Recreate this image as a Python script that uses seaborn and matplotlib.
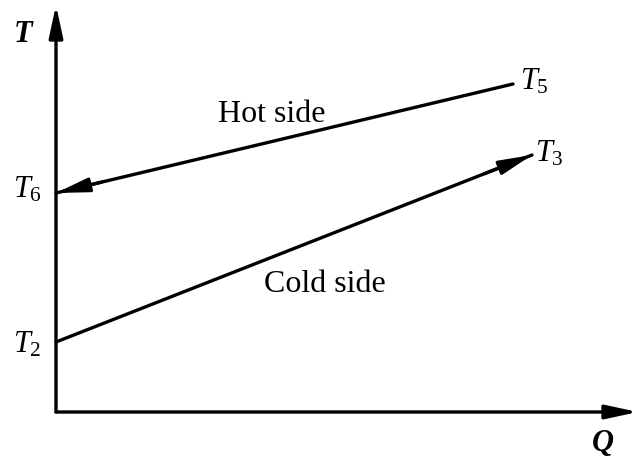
import matplotlib
matplotlib.use("Agg")
import matplotlib.pyplot as plt
import seaborn as sns
import pandas as pd

# Schematic data (arbitrary units: Q = heat, T = temperature)
hot_Q = [457, 0]
hot_T = [328, 219]
cold_Q = [0, 476]
cold_T = [70, 257]
q_axis_max = 582
t_axis_max = 407
point_labels = ["$T_5$", "$T_3$", "$T_6$", "$T_2$"]
side_labels = ["Hot side", "Cold side"]
axis_labels = ["Q", "T"]

sns.set_theme(style="white")
plt.rcParams["font.family"] = ["Liberation Serif", "DejaVu Serif"]
plt.rcParams["text.color"] = "black"
plt.rcParams["mathtext.fontset"] = "custom"
plt.rcParams["mathtext.rm"] = "Liberation Serif"
plt.rcParams["mathtext.it"] = "Liberation Serif:italic"
plt.rcParams["mathtext.bf"] = "Liberation Serif:bold"

fig = plt.figure(figsize=(6.38, 4.63), dpi=100)
ax = fig.add_axes([0, 0, 1, 1])
ax.set_xlim(-56, 582)
ax.set_ylim(-51, 412)
ax.axis("off")

lw = 2.4
df_hot = pd.DataFrame({"Q": hot_Q, "T": hot_T})
df_cold = pd.DataFrame({"Q": cold_Q, "T": cold_T})
sns.lineplot(data=df_hot, x="Q", y="T", sort=False, color="black", lw=lw, ax=ax, estimator=None)
sns.lineplot(data=df_cold, x="Q", y="T", sort=False, color="black", lw=lw, ax=ax, estimator=None)

head = dict(arrowstyle="-|>,head_length=0.65,head_width=0.14", color="black",
            lw=lw, shrinkA=0, shrinkB=0, mutation_scale=30)

def arrow_head(q0, t0, q1, t1, frac=0.1):
    ax.annotate("", xy=(q1, t1), xytext=(q1 - (q1 - q0) * frac, t1 - (t1 - t0) * frac),
                arrowprops=head)

arrow_head(hot_Q[0], hot_T[0], hot_Q[1], hot_T[1])
arrow_head(cold_Q[0], cold_T[0], cold_Q[1], cold_T[1])

# axes with arrows
ax.annotate("", xy=(0, t_axis_max), xytext=(0, 0), arrowprops=head)
ax.annotate("", xy=(q_axis_max, 0), xytext=(0, 0), arrowprops=head)

fs = 22
ax.text(-33, 377, axis_labels[1], fontsize=fs, ha="center", va="center",
        fontweight="bold", fontstyle="italic", color="black")
ax.text(547, -32, axis_labels[0], fontsize=fs, ha="center", va="center",
        fontweight="bold", fontstyle="italic", color="black")

ax.text(hot_Q[0] + 7, hot_T[0] + 2, point_labels[0], fontsize=fs, ha="left", va="center", color="black")
ax.text(cold_Q[1] + 3, cold_T[1] + 1, point_labels[1], fontsize=fs, ha="left", va="center", color="black")
ax.text(-43, hot_T[1] + 3, point_labels[2], fontsize=fs, ha="left", va="center", color="black")
ax.text(-43, cold_T[0] - 3, point_labels[3], fontsize=fs, ha="left", va="center", color="black")

ax.text(216, 297, side_labels[0], fontsize=23, ha="center", va="center", color="black")
ax.text(269, 128, side_labels[1], fontsize=23, ha="center", va="center", color="black")

fig.savefig("out.png", dpi=100, facecolor="white")
